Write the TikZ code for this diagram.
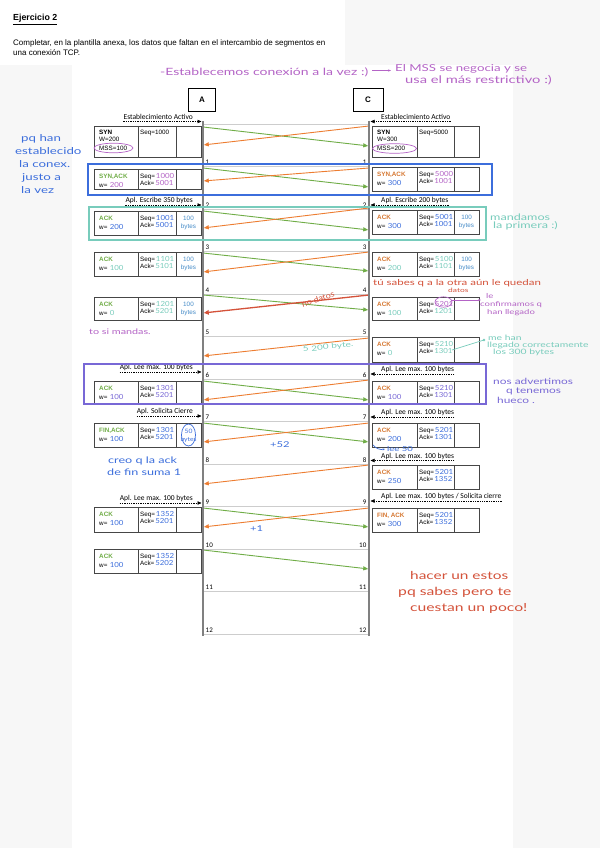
\documentclass[tikz,border=0pt]{standalone}
\usepackage{fontspec}
\setmainfont{Liberation Sans}
\newfontfamily\carl{Carlito}
\newfontfamily\hand[FakeStretch=1.12]{Lato}
\newfontfamily\handw[FakeStretch=1.4]{Lato}
\usetikzlibrary{arrows.meta}
\definecolor{bg}{RGB}{247,247,247}
\definecolor{grn}{RGB}{112,173,71}
\definecolor{org}{RGB}{237,125,49}
\definecolor{orgt}{RGB}{214,120,50}
\definecolor{hpur}{RGB}{180,100,198}
\definecolor{hblu}{RGB}{60,110,220}
\definecolor{htea}{RGB}{120,204,188}
\definecolor{hred}{RGB}{212,82,58}
\definecolor{hvio}{RGB}{120,104,214}
\definecolor{bytc}{RGB}{70,140,200}
\definecolor{vline}{RGB}{128,128,128}
\definecolor{tline}{RGB}{205,205,205}
\definecolor{bline}{RGB}{70,70,70}
\tikzset{
 boxline/.style={draw=bline, line width=0.7pt},
 pr/.style={font=\fontsize{6.3}{6.3}\selectfont, anchor=base west, inner sep=0pt},
 prb/.style={font=\bfseries\fontsize{6.3}{6.3}\selectfont, anchor=base west, inner sep=0pt},
 hw/.style={font=\hand\fontsize{7}{7}\selectfont, anchor=base west, inner sep=0pt},
 note/.style={font=\handw\fontsize{8}{8}\selectfont, anchor=base west, inner sep=0pt},
 apl/.style={font=\carl\fontsize{7.5}{7.5}\selectfont, inner sep=0pt},
 aplarr/.style={line width=0.5pt, dash pattern=on 1.3pt off 1pt, -{Triangle[length=4pt,width=3.4pt]}},
 gmsg/.style={draw=grn, line width=0.9pt, shorten >=0.8pt, -{Triangle[length=5pt,width=4pt]}},
 omsg/.style={draw=org, line width=0.9pt, shorten >=0.8pt, -{Triangle[length=5pt,width=4pt]}},
 tick/.style={font=\carl\fontsize{7}{7}\selectfont, inner sep=0pt},
 bytnode/.style={font=\fontsize{6.3}{6.3}\selectfont, text=bytc, anchor=base, inner sep=0pt},
 hbox/.style={line width=1.2pt},
}
\newcommand\gm[3]{\coordinate (gs#1) at (203,#2); \coordinate (ge#1) at (369,#3); \draw[gmsg] (gs#1) -- (ge#1);}
\newcommand\om[3]{\coordinate (os#1) at (369,#2); \coordinate (oe#1) at (203,#3); \draw[omsg] (os#1) -- (oe#1);}
\newcommand\msgL[9]{%
 \draw[boxline] (94,#1) rectangle (201,#2) (138,#1)--(138,#2) (176,#1)--(176,#2);
 \node[prb,text=grn] (ll#1) at (99,{#1+9.5}) {#3};
 \node[pr] (wl#1) at (99,{#1+18.5}) {w=};
 \node[hw,text=#4] (wvl#1) at ([xshift=2pt]wl#1.base east) {#5};
 \node[pr] (sl#1) at (140,{#1+9}) {Seq=};
 \node[hw,text=#6] (svl#1) at ([xshift=0.5pt]sl#1.base east) {#7};
 \node[pr] (al#1) at (140,{#1+16.5}) {Ack=};
 \node[hw,text=#8] (avl#1) at ([xshift=0.5pt]al#1.base east) {#9};}
\newcommand\msgR[9]{%
 \draw[boxline] (372,#1) rectangle (479,#2) (417,#1)--(417,#2) (454,#1)--(454,#2);
 \node[prb,text=orgt] (lr#1) at (377,{#1+9.5}) {#3};
 \node[pr] (wr#1) at (377,{#1+18.5}) {w=};
 \node[hw,text=#4] (wvr#1) at ([xshift=2pt]wr#1.base east) {#5};
 \node[pr] (sr#1) at (419,{#1+9}) {Seq=};
 \node[hw,text=#6] (svr#1) at ([xshift=0.5pt]sr#1.base east) {#7};
 \node[pr] (ar#1) at (419,{#1+16.5}) {Ack=};
 \node[hw,text=#8] (avr#1) at ([xshift=0.5pt]ar#1.base east) {#9};}
\newcommand\bytL[1]{\node[bytnode] (bla#1) at (188.5,{#1+9}) {100}; \node[bytnode] (blb#1) at (188.5,{#1+17}) {bytes};}
\newcommand\bytR[1]{\node[bytnode] (bra#1) at (466.5,{#1+9}) {100}; \node[bytnode] (brb#1) at (466.5,{#1+17}) {bytes};}
\newcommand\appL[3]{\node[apl,anchor=base east] (#1) at (193,{#2-2.2}) {#3}; \draw[aplarr] (#1.west |- 0,#2) -- (201.5,#2);}
\newcommand\appR[3]{\node[apl,anchor=base west] (#1) at (381,{#2-2.2}) {#3}; \draw[aplarr] (#1.east |- 0,#2) -- (370.5,#2);}
\begin{document}
\begin{tikzpicture}[x=1pt,y=-1pt]
\useasboundingbox (0,0) rectangle (600,848);
\fill[bg] (0,0) rectangle (600,848);
\fill[white] (0,0) rectangle (345,65);
\fill[white] (72,65) rectangle (513,848);
% heading
\node[anchor=base west, inner sep=0pt, font=\bfseries\fontsize{8.8}{8.8}\selectfont] (title) at (13,20.5) {\underline{Ejercicio 2}};
\node[anchor=base west, inner sep=0pt, font=\fontsize{8}{8}\selectfont] (body1) at (13,46) {Completar, en la plantilla anexa, los datos que faltan en el intercambio de segmentos en};
\node[anchor=base west, inner sep=0pt, font=\fontsize{8}{8}\selectfont] (body2) at (13,55.5) {una conexión TCP.};
% hosts
\node[draw=black, line width=0.6pt, minimum width=27pt, minimum height=23pt, inner sep=0pt, font=\bfseries\fontsize{8}{8}\selectfont] (A) at (202,99.5) {A};
\node[draw=black, line width=0.6pt, minimum width=30pt, minimum height=23pt, inner sep=0pt, font=\bfseries\fontsize{8}{8}\selectfont] (C) at (368,99.5) {C};
% tick lines
\draw[tline, line width=0.6pt] (203,124)--(369,124);
\foreach \n in {1,...,12}{
  \pgfmathsetmacro\yy{124+42.5*\n}
  \draw[tline, line width=0.6pt] (203,\yy)--(369,\yy);
  \node[tick,anchor=base west] (tl\n) at (205.5,{\yy-1.8}) {\n};
  \node[tick,anchor=base east] (tr\n) at (366.5,{\yy-1.8}) {\n};
}
% messages
\gm{0}{127}{146} \om{0}{126}{145}
\gm{1}{168}{187} \om{1}{168}{181}
\gm{2}{211}{230} \om{2}{208}{228}
\gm{3}{253}{271} \om{3}{252}{272}
\gm{4}{295}{310}
\coordinate (rs4) at (369,295); \coordinate (re4) at (203,313);
\draw[draw=hred, line width=1.3pt, shorten >=0.8pt, -{Triangle[length=5pt,width=4.5pt]}] (rs4) -- (re4);
\om{5}{338}{356}
\gm{6}{381}{400} \om{6}{380}{400}
\gm{7}{423}{442} \om{7}{423}{442}
\om{8}{465}{484}
\gm{9}{508}{527} \om{9}{508}{527}
\gm{10}{550}{569}
% timelines
\draw[vline, line width=1.6pt] (203,121)--(203,636);
\draw[vline, line width=1.6pt] (369,121)--(369,636);
% SYN boxes
\draw[boxline] (94,126) rectangle (201,157) (138,126)--(138,157) (176,126)--(176,157);
\node[prb] (synl) at (99,134.5) {SYN};
\node[pr] (wsl) at (99,142) {W=200};
\node[pr] (mssl) at (99,150) {MSS=100};
\node[pr] (seql) at (140,134.5) {Seq=1000};
\draw[boxline] (372,126) rectangle (479,157) (417,126)--(417,157) (454,126)--(454,157);
\node[prb] (synr) at (377,134.5) {SYN};
\node[pr] (wsr) at (377,142) {W=300};
\node[pr] (mssr) at (377,150) {MSS=200};
\node[pr] (seqr) at (419,134.5) {Seq=5000};
\draw[hpur, line width=0.7pt] (113.5,148) ellipse (19.5 and 4.8);
\draw[hpur, line width=0.7pt] (394.5,148.5) ellipse (22 and 4.8);
% left boxes
\msgL{169}{189}{SYN,ACK}{hpur}{200}{hpur}{1000}{hpur}{5001}
\msgL{211}{235}{ACK}{hblu}{200}{hblu}{1001}{hblu}{5001} \bytL{211}
\msgL{252}{276}{ACK}{htea}{100}{htea}{1101}{htea}{5101} \bytL{252}
\msgL{297}{320}{ACK}{htea}{0}{htea}{1201}{htea}{5201} \bytL{297}
\msgL{381}{404}{ACK}{hvio}{100}{hvio}{1301}{hvio}{5201}
\msgL{423}{447}{FIN,ACK}{hblu}{100}{hblu}{1301}{hblu}{5201}
\node[hw,anchor=base,text=hblu,font=\hand\fontsize{6}{6}\selectfont] (fb1) at (188.5,433) {50};
\node[hw,anchor=base,text=hblu,font=\hand\fontsize{6}{6}\selectfont] (fb2) at (188.5,441) {bytes};
\draw[hblu, line width=0.7pt] (188.5,435) ellipse (7 and 11);
\msgL{507}{532}{ACK}{hblu}{100}{hblu}{1352}{hblu}{5201}
\msgL{549}{573}{ACK}{hblu}{100}{hblu}{1352}{hblu}{5202}
% right boxes
\msgR{167}{191}{SYN,ACK}{hblu}{300}{hpur}{5000}{hpur}{1001}
\msgR{210}{234}{ACK}{hblu}{300}{hblu}{5001}{hblu}{1001} \bytR{210}
\msgR{252}{276}{ACK}{htea}{200}{htea}{5100}{htea}{1101} \bytR{252}
\msgR{297}{320}{ACK}{htea}{100}{hpur}{5201}{htea}{1201}
\msgR{337}{362}{ACK}{htea}{0}{htea}{5210}{htea}{1301}
\msgR{381}{404}{ACK}{hvio}{100}{hvio}{5210}{hvio}{1301}
\msgR{423}{447}{ACK}{hblu}{200}{hblu}{5201}{hblu}{1301}
\msgR{465}{489}{ACK}{hblu}{250}{hblu}{5201}{hblu}{1352}
\msgR{508}{532}{FIN, ACK}{hblu}{300}{hblu}{5201}{hblu}{1352}
% application labels
\appL{la0}{121.5}{Establecimiento Activo}
\appL{la2}{205}{Apl. Escribe 350 bytes}
\appL{la6}{372}{Apl. Lee max. 100 bytes}
\appL{la7}{416}{Apl. Solicita Cierre}
\appL{la9}{503}{Apl. Lee max. 100 bytes}
\appR{ra0}{121.5}{Establecimiento Activo}
\appR{ra2}{205}{Apl. Escribe 200 bytes}
\appR{ra6}{374}{Apl. Lee max. 100 bytes}
\appR{ra7}{417}{Apl. Lee max. 100 bytes}
\appR{ra8}{460.5}{Apl. Lee max. 100 bytes}
\appR{ra9}{501}{Apl. Lee max. 100 bytes / Solicita cierre}
% highlight rectangles
\draw[hblu, hbox] (88,164) rectangle (492,195);
\draw[htea, hbox] (89,207) rectangle (486,240);
\draw[hvio, hbox] (84,364) rectangle (486,404);
% handwritten notes
\node[note,text=hpur,font=\handw\fontsize{10}{10}\selectfont] (t1) at (160,76) {-Establecemos conexión a la vez :)};
\coordinate (ta1) at (372,70.5); \coordinate (ta2) at (391,70.5);
\draw[hpur, line width=0.7pt, -{Stealth[length=3pt]}] (ta1) -- (ta2);
\node[note,text=hpur,font=\handw\fontsize{9.5}{9.5}\selectfont] (t2) at (395,72) {El MSS se negocia y se};
\node[note,text=hpur,font=\handw\fontsize{10.5}{10.5}\selectfont] (t3) at (405,84) {usa el más restrictivo :)};
\node[note,text=hblu,font=\handw\fontsize{9.5}{9.5}\selectfont] (b1) at (21,142) {pq han};
\node[note,text=hblu,font=\handw\fontsize{9.5}{9.5}\selectfont] (b2) at (15,154) {establecido};
\node[note,text=hblu,font=\handw\fontsize{9.5}{9.5}\selectfont] (b3) at (19,167) {la conex.};
\node[note,text=hblu,font=\handw\fontsize{9.5}{9.5}\selectfont] (b4) at (22,180) {justo a};
\node[note,text=hblu,font=\handw\fontsize{9.5}{9.5}\selectfont] (b5) at (21,193) {la vez};
\node[note,text=htea,font=\handw\fontsize{9}{9}\selectfont] (m1) at (490,220) {mandamos};
\node[note,text=htea,font=\handw\fontsize{9}{9}\selectfont] (m2) at (493,228.5) {la primera :)};
\node[note,text=hred,font=\handw\fontsize{8.2}{8.2}\selectfont] (r1) at (373,285) {tú sabes q a la otra aún le quedan};
\node[note,text=hred,font=\handw\fontsize{6}{6}\selectfont] (r2) at (448,292.5) {datos};
\node[note,text=hred,font=\hand\fontsize{8}{8}\selectfont, rotate=18, anchor=center] (nd) at (318,299) {no datos};
\draw[hpur, line width=0.7pt] (443.5,302) ellipse (8.5 and 5.2);
\coordinate (pa1) at (452,300); \coordinate (pa2) at (481,300);
\draw[hpur, line width=0.7pt, -{Stealth[length=3pt]}] (pa1) -- (pa2);
\node[note,text=hpur,font=\handw\fontsize{6.8}{6.8}\selectfont] (p1) at (486,298) {le};
\node[note,text=hpur,font=\handw\fontsize{6.8}{6.8}\selectfont] (p2) at (480,306) {confirmamos q};
\node[note,text=hpur,font=\handw\fontsize{6.8}{6.8}\selectfont] (p3) at (487,314.5) {han llegado};
\node[note,text=hpur,font=\handw\fontsize{7.7}{7.7}\selectfont] (p4) at (89,334) {to si mandas.};
\coordinate (tc1) at (452,350); \coordinate (tc2) at (484,340);
\draw[htea, line width=0.7pt] (tc1) -- (tc2);
\fill[htea] (tc2) circle (1.3);
\node[note,text=htea,font=\handw\fontsize{7.4}{7.4}\selectfont] (c1) at (488,340) {me han};
\node[note,text=htea,font=\handw\fontsize{7.4}{7.4}\selectfont] (c2) at (487,347) {llegado correctamente};
\node[note,text=htea,font=\handw\fontsize{7.4}{7.4}\selectfont] (c3) at (493,354.5) {los 300 bytes};
\node[note,text=htea,font=\handw\fontsize{7.2}{7.2}\selectfont, rotate=6] (c4) at (303,352) {5 200 byte.};
\node[note,text=hvio,font=\handw\fontsize{8.5}{8.5}\selectfont] (v1) at (493,384) {nos advertimos};
\node[note,text=hvio,font=\handw\fontsize{8.5}{8.5}\selectfont] (v2) at (506,393.5) {q tenemos};
\node[note,text=hvio,font=\handw\fontsize{8.5}{8.5}\selectfont] (v3) at (497,403) {hueco .};
\node[note,text=hblu,font=\handw\fontsize{8}{8}\selectfont] (u1) at (270,447) {+52};
\coordinate (ua1) at (373,445); \coordinate (ua2) at (385,449);
\draw[hblu, line width=0.7pt, -{Stealth[length=2.5pt]}] (ua1) to[bend right=30] (ua2);
\node[note,text=hblu,font=\handw\fontsize{6.8}{6.8}\selectfont] (u2) at (387,451) {lee 50};
\node[note,text=hblu,font=\handw\fontsize{9}{9}\selectfont] (u3) at (108,463) {creo q la ack};
\node[note,text=hblu,font=\handw\fontsize{9}{9}\selectfont] (u4) at (107,475) {de fin suma 1};
\node[note,text=hblu,font=\handw\fontsize{8}{8}\selectfont] (u5) at (250,531) {+1};
\node[note,text=hred,font=\handw\fontsize{11}{11}\selectfont] (f1) at (410,579) {hacer un estos};
\node[note,text=hred,font=\handw\fontsize{11.2}{11.2}\selectfont] (f2) at (398,595) {pq sabes pero te};
\node[note,text=hred,font=\handw\fontsize{11.2}{11.2}\selectfont] (f3) at (410,611) {cuestan un poco!};
\end{tikzpicture}
\end{document}
